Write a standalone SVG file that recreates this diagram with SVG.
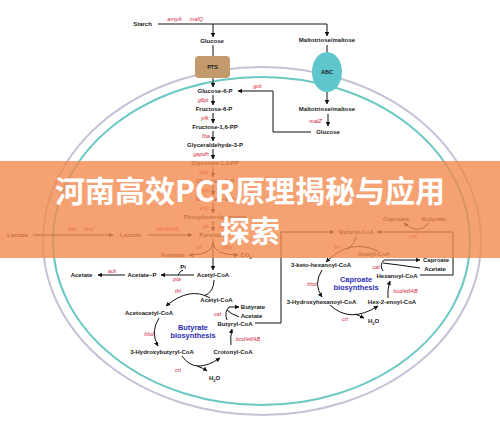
<svg xmlns="http://www.w3.org/2000/svg" width="500" height="421" viewBox="0 0 500 421">
<defs>
<marker id="ah" viewBox="0 0 6 6" refX="5.5" refY="3" markerWidth="4.5" markerHeight="4.5" markerUnits="userSpaceOnUse" orient="auto">
<path d="M0,0 L6,3 L0,6 z" fill="#111"/>
</marker>
<style>
text{font-family:"Liberation Sans",Arial,sans-serif;}
.t{font-size:6px;font-weight:bold;fill:#1a1a1a;text-anchor:middle;}
.e{font-size:5.6px;font-style:italic;fill:#d0283c;text-anchor:middle;}
.b{font-size:7.4px;font-weight:bold;fill:#2b2bb0;text-anchor:middle;}
.ln{fill:none;stroke:#111;stroke-width:1;}
.ar{fill:none;stroke:#111;stroke-width:1;marker-end:url(#ah);}
.ttl{font-family:"Noto Sans CJK SC","Noto Sans",sans-serif;font-size:30px;font-weight:bold;fill:#fff;text-anchor:middle;}
</style>
</defs>
<rect width="500" height="421" fill="#fff"/>
<g id="membrane">
<ellipse cx="262" cy="241" rx="219" ry="174" fill="none" stroke="#c4c2d6" stroke-width="2"/>
<ellipse cx="261.5" cy="241" rx="208.5" ry="164" fill="none" stroke="#6cc8c2" stroke-width="2"/>
</g>
<g id="connectors">
<path class="ln" d="M158,24 H327"/>
<path class="ar" d="M213,24 V37"/>
<path class="ar" d="M327,24 V36"/>
<path class="ln" d="M213,45 V56"/>
<path class="ln" d="M327,45 V52"/>
<path class="ar" d="M213,78 V87"/>
<path class="ar" d="M213,95 V105"/>
<path class="ar" d="M213,113 V123"/>
<path class="ar" d="M213,131 V141"/>
<path class="ar" d="M213,149 V159"/>
<path class="ar" d="M213,167 V177"/>
<path class="ar" d="M213,185 V195"/>
<path class="ar" d="M213,203 V213"/>
<path class="ar" d="M213,221 V231"/>
<path class="ar" d="M213,239 V270"/>
<path class="ar" d="M213,243 Q212,255 189,255"/>
<path class="ar" d="M213,243 Q214,255 238,255"/>
<path class="ar" d="M33,235 H113"/>
<path class="ar" d="M148,235 H192"/>
<path class="ar" d="M194,275 H161"/>
<path class="ln" d="M183,270 Q180,271 178,275"/>
<path class="ar" d="M125,275 H98"/>
<path class="ar" d="M327,92 V104"/>
<path class="ar" d="M328,114 V126"/>
<path class="ar" d="M311,132 H273 V91 H238"/>
<path class="ln" d="M214,280 Q214,292 204,296"/>
<path class="ar" d="M210,298 Q190,286 166,306"/>
<path class="ar" d="M159,318 Q150,332 158,346"/>
<path class="ar" d="M182,356 Q195,375 220,358"/>
<path class="ar" d="M197,366 Q203,368 207,371"/>
<path class="ar" d="M231,345 Q230,337 232,329"/>
<path class="ln" d="M227,320 Q224,312 229,307"/>
<path class="ar" d="M229,307 H239"/>
<path class="ln" d="M239,317 Q231,314 227,310"/>
<path class="ar" d="M255,323 H281 V232 H334"/>
<path class="ar" d="M420,275 H453 V232 H377"/>
<path class="ar" d="M429,223 Q418,236 404,223"/>
<path class="ln" d="M356,237 Q354,246 346,249"/>
<path class="ar" d="M378,251 Q350,238 326,262"/>
<path class="ar" d="M322,270 Q313,284 322,297"/>
<path class="ar" d="M330,305 Q350,324 378,306"/>
<path class="ar" d="M355,314 Q360,316 364,318"/>
<path class="ar" d="M388,298 Q387,290 390,281"/>
<path class="ln" d="M383,271 Q379,265 384,260"/>
<path class="ar" d="M384,260 H420"/>
<path class="ln" d="M420,268 Q400,265 383,263"/>
</g>
<g id="nodes">
<g id="starch"><text class="t" x="142.5" y="25.5">Starch</text></g>
<text class="e" x="174.5" y="21">amyA</text>
<text class="e" x="196.5" y="21">malQ</text>
<g id="glucose-out"><text class="t" x="212" y="43">Glucose</text></g>
<g id="malto-out"><text class="t" x="327" y="42">Maltotriose/maltose</text></g>
<g id="pts"><rect x="195" y="56" width="35" height="22" rx="4" fill="#c49a6c"/><text class="t" x="212.5" y="69" style="font-size:5.5px">PTS</text></g>
<g id="abc"><ellipse cx="327" cy="72" rx="15" ry="20" fill="#5ec6cc"/><text class="t" x="327" y="74" style="font-size:5.5px">ABC</text></g>
<g id="g6p"><text class="t" x="215" y="93">Glucose-6-P</text></g>
<text class="e" x="203" y="102">g6pi</text>
<g id="f6p"><text class="t" x="214" y="111">Fructose-6-P</text></g>
<text class="e" x="205" y="120">pfk</text>
<g id="f16pp"><text class="t" x="215" y="129">Fructose-1,6-PP</text></g>
<text class="e" x="206" y="138">fba</text>
<g id="g3p"><text class="t" x="215" y="147">Glyceraldehyde-3-P</text></g>
<text class="e" x="201" y="156">gapdh</text>
<g id="g13pp"><text class="t" x="215" y="165">Glycerate-1,3-PP</text></g>
<text class="e" x="204" y="174">pgk</text>
<g id="g3pa"><text class="t" x="215" y="183">Glycerate-3-P</text></g>
<text class="e" x="204" y="192">pgm</text>
<g id="g2p"><text class="t" x="215" y="201">Glycerate-2-P</text></g>
<text class="e" x="204" y="210">eno</text>
<g id="pep"><text class="t" x="215" y="219">Phosphoenolpyruvate</text></g>
<text class="e" x="206" y="228">pk</text>
<text class="e" x="225" y="228">ppdk</text>
<g id="pyruvate"><text class="t" x="212" y="237">Pyruvate</text></g>
<g id="lactate1"><text class="t" x="17.5" y="237">Lactate</text></g>
<text class="e" x="72" y="231">lldp</text>
<text class="e" x="88.5" y="231">lara</text>
<g id="lactate2"><text class="t" x="130.5" y="237">Lactate</text></g>
<text class="e" x="167.5" y="231">ldh/etfAB</text>
<text class="e" x="199.5" y="249">pfl</text>
<text class="e" x="227.5" y="249">pflor</text>
<g id="formate"><text class="t" x="173" y="257">Formate</text></g>
<g id="co2"><text class="t" x="246" y="257">CO<tspan dy="1.5" style="font-size:4px">2</tspan></text></g>
<g id="acetylcoa1"><text class="t" x="213" y="277">Acetyl-CoA</text></g>
<g id="acetylp"><text class="t" x="142" y="277">Acetate~P</text></g>
<g id="acetate1"><text class="t" x="81.5" y="277">Acetate</text></g>
<text class="t" x="183" y="269">Pi</text>
<text class="e" x="177" y="281">pta</text>
<text class="e" x="112" y="273">ack</text>
<text class="e" x="178" y="293">thl</text>
<g id="acetylcoa2"><text class="t" x="216.5" y="302">Acetyl-CoA</text></g>
<g id="acetoacetyl"><text class="t" x="149" y="315">Acetoacetyl-CoA</text></g>
<text class="e" x="217.5" y="316">cat</text>
<g id="butyrate1"><text class="t" x="253" y="309">Butyrate</text></g>
<g id="acetate2"><text class="t" x="251.5" y="318">Acetate</text></g>
<g id="butyrylcoa1"><text class="t" x="235" y="326">Butyryl-CoA</text></g>
<text class="b" x="193" y="330">Butyrate</text>
<text class="b" x="193" y="338">biosynthesis</text>
<text class="e" x="149" y="336">hbd</text>
<text class="e" x="248" y="341">bcd/etfAB</text>
<g id="hydroxybutyryl"><text class="t" x="162" y="354">3-Hydroxybutyryl-CoA</text></g>
<g id="crotonyl"><text class="t" x="233" y="354">Crotonyl-CoA</text></g>
<text class="e" x="178" y="372">crt</text>
<g id="h2o1"><text class="t" x="214.5" y="380">H<tspan dy="1.5" style="font-size:4px">2</tspan><tspan dy="-1.5">O</tspan></text></g>
<g id="malto-in"><text class="t" x="327" y="111">Maltotriose/maltose</text></g>
<text class="e" x="315.5" y="123">malZ</text>
<g id="glucose-in"><text class="t" x="328" y="134">Glucose</text></g>
<text class="e" x="257.5" y="88">gck</text>
<g id="caproate1"><text class="t" x="396" y="221">Caproate</text></g>
<g id="butyrate2"><text class="t" x="434" y="221">Butyrate</text></g>
<g id="butyrylcoa2"><text class="t" x="356.5" y="234">Butyryl-CoA</text></g>
<text class="e" x="413" y="238">cat</text>
<text class="e" x="337" y="249">thl</text>
<g id="acetylcoa3"><text class="t" x="374" y="256">Acetyl-CoA</text></g>
<g id="ketohexanoyl"><text class="t" x="321" y="267">3-keto-hexanoyl-CoA</text></g>
<text class="e" x="376" y="269">cat</text>
<g id="caproate2"><text class="t" x="436" y="262">Caproate</text></g>
<g id="acetate3"><text class="t" x="435" y="271">Acetate</text></g>
<g id="hexanoylcoa"><text class="t" x="397" y="278">Hexanoyl-CoA</text></g>
<text class="b" x="356" y="282">Caproate</text>
<text class="b" x="356" y="290">biosynthesis</text>
<text class="e" x="312" y="286">hbd</text>
<text class="e" x="405.5" y="293">bcd/etfAB</text>
<g id="hydroxyhexanoyl"><text class="t" x="321.5" y="304">3-Hydroxyhexanoyl-CoA</text></g>
<g id="hexenoyl"><text class="t" x="392" y="304">Hex-2-enoyl-CoA</text></g>
<text class="e" x="345" y="321">crt</text>
<g id="h2o2"><text class="t" x="373.5" y="323">H<tspan dy="1.5" style="font-size:4px">2</tspan><tspan dy="-1.5">O</tspan></text></g>
</g>
<g id="banner">
<rect x="0" y="161" width="500" height="97" fill="#f28a4e" opacity="0.8"/>
<text class="ttl" x="250" y="202">河南高效PCR原理揭秘与应用</text>
<text class="ttl" x="250" y="242">探索</text>
</g>
</svg>
